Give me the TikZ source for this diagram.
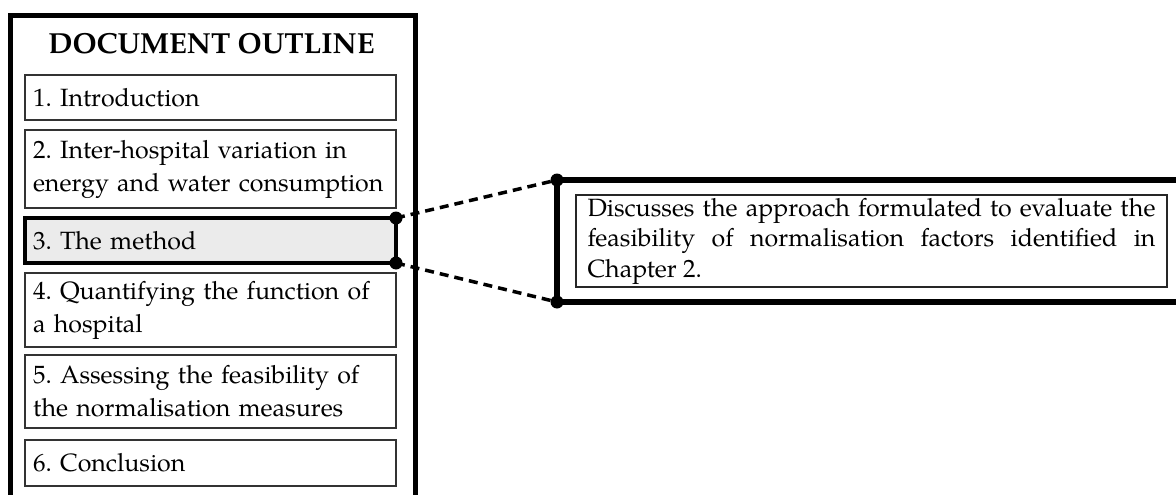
\documentclass[tikz,border=0pt]{standalone}
\usepackage{fontspec}
\setmainfont{TeX Gyre Pagella}
\frenchspacing
\begin{document}
\begin{tikzpicture}[x=1pt, y=-1pt,
  frame/.style={draw=black, line width=5pt, outer sep=0pt, inner sep=0pt, anchor=north west},
  chapter/.style={draw=black!80, line width=1.6pt, outer sep=0pt, anchor=north west,
    minimum width=371pt, text width=355pt, inner xsep=8pt, inner ysep=0pt, align=left,
    font=\fontsize{25}{33}\selectfont},
  current/.style={chapter, draw=black, line width=3.5pt, fill=black!8},
  pin/.style={fill=black},
  link/.style={draw=black, line width=3.5pt, dash pattern=on 9pt off 6pt},
  summary/.style={draw=black!85, line width=1.5pt, outer sep=0pt, anchor=north west,
    minimum width=591pt, minimum height=92pt, text width=568pt, inner xsep=11.5pt,
    inner ysep=0pt, align=justify, font=\fontsize{25}{30.5}\selectfont}]
  \useasboundingbox (0,0) rectangle (1176,495);
  \clip (0,0) rectangle (1176,495);

  % outline panel
  \node[frame, minimum width=404.5pt, minimum height=520pt] (outline) at (10.5,16) {};
  \node[font=\bfseries\fontsize{29}{29}\selectfont, anchor=base] (title) at (211.5,54) {DOCUMENT OUTLINE};

  \node[chapter, minimum height=45pt] (c1) at (25,75) {\mbox{1. Introduction}};
  \node[chapter, minimum height=78pt] (c2) at (25,130) {\mbox{2. Inter-hospital variation in}\\\mbox{energy and water consumption}};
  \node[current, minimum height=45pt] (c3) at (25,218) {\mbox{3. The method}};
  \node[chapter, minimum height=74pt] (c4) at (25,273) {\mbox{4. Quantifying the function of}\\\mbox{a hospital}};
  \node[chapter, minimum height=73pt] (c5) at (25,355) {\mbox{5. Assessing the feasibility of}\\\mbox{the normalisation measures}};
  \node[chapter, minimum height=46pt] (c6) at (25,440) {\mbox{6. Conclusion}};

  % detail panel
  \node[frame, line width=5.5pt, minimum width=700pt, minimum height=122pt] (detail) at (557,180) {};
  \node[summary] (desc) at (576,195) {%
    Discusses the approach formulated to evaluate the\linebreak
    feasibility of normalisation factors identified in\linebreak
    Chapter 2.};

  % zoom connectors
  \draw[link] (c3.north east) -- (detail.north west);
  \draw[link] (c3.south east) -- (detail.south west);
  \draw[frame] (outline.north east) -- (outline.south east);
  \fill[pin] (c3.north east) circle (6.5);
  \fill[pin] (c3.south east) circle (6.5);
  \fill[pin] (detail.north west) circle (6.5);
  \fill[pin] (detail.south west) circle (6.5);
\end{tikzpicture}
\end{document}
